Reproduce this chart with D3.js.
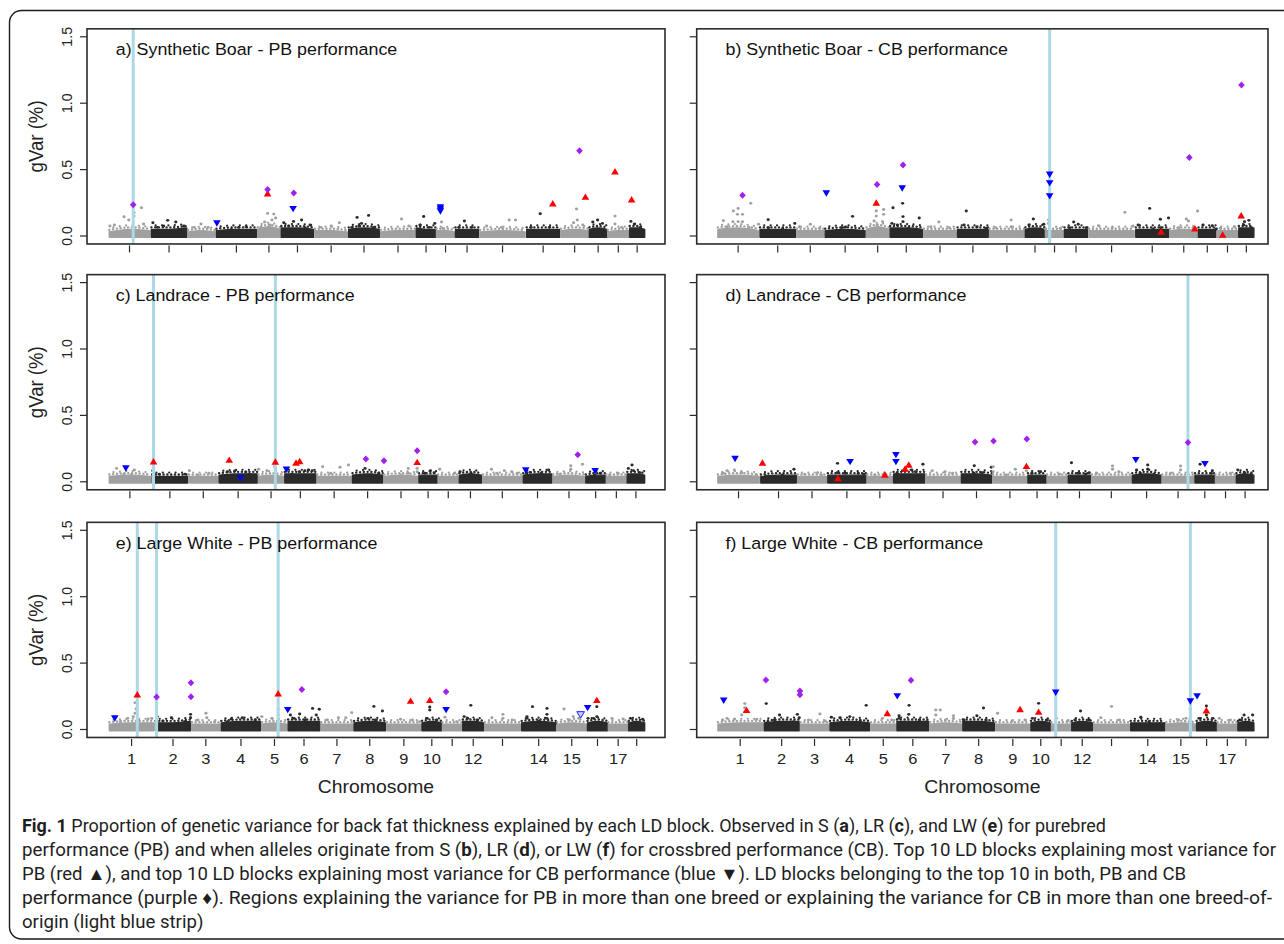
<!DOCTYPE html>
<html><head><meta charset="utf-8">
<script src="https://cdn.jsdelivr.net/npm/d3@7"></script>
<style>body{margin:0;background:#fff}svg{display:block}</style>
</head><body>
<svg id="c" width="1284" height="944"></svg>
<script>
// ---------------- DATA ----------------
const chromosomes = ["1","2","3","4","5","6","7","8","9","10","11","12","13","14","15","16","17","18"];
const xTickLabels = ["1","2","3","4","5","6","7","8","9","10","","12","","14","15","","17",""];
const yTickValues = [0, 0.5, 1.0, 1.5];
const yTickLabels = ["0.0","0.5","1.0","1.5"];
const yAxisTitle = "gVar (%)";
const xAxisTitle = "Chromosome";
// number of LD blocks per chromosome, per breed (S, LR, LW)
const blocksS  = [422,369,281,416,234,337,337,320,360,201,189,241,469,343,287,183,220,157];
const blocksLR = [431,370,300,398,262,325,353,317,352,191,213,232,406,300,330,205,210,182];
const blocksLW = [464,365,292,411,260,331,328,329,354,205,203,218,368,356,306,209,205,166];
const panelTitles = ["a) Synthetic Boar - PB performance","b) Synthetic Boar - CB performance",
  "c) Landrace - PB performance","d) Landrace - CB performance",
  "e) Large White - PB performance","f) Large White - CB performance"];

// top-10 markers: [type, block position, gVar %]  PB = red ▲, CB = blue ▼, both = purple ♦
const markersA = [["PB",1592,0.316],["PB",4444,0.241],["PB",4770,0.291],["PB",5066,0.482],["PB",5232,0.271],
  ["CB",1085,0.10],["CB",1847,0.208],["CB",3320,0.22],["CB",3320,0.205],["CB",3320,0.19],
  ["both",248,0.236],["both",1592,0.35],["both",1854,0.324],["both",4711,0.642]];
const markersB = [["PB",1591,0.246],["PB",4773,0.053],["PB",4436,0.028],["PB",5051,0.005],["PB",5236,0.15],
  ["CB",1092,0.326],["CB",1850,0.364],["CB",3323,0.467],["CB",3323,0.402],["CB",3323,0.304],
  ["both",255,0.306],["both",1599,0.387],["both",1858,0.535],["both",4718,0.592],["both",5239,1.137]];
const markersC = [["PB",452,0.149],["PB",1211,0.161],["PB",1673,0.147],["PB",1880,0.139],["PB",1917,0.151],["PB",3094,0.144],
  ["CB",175,0.106],["CB",1322,0.033],["CB",1784,0.096],["CB",4182,0.091],["CB",4877,0.086],
  ["both",2580,0.171],["both",2761,0.159],["both",3094,0.234],["both",4703,0.204]];
const markersD = [["PB",455,0.139],["PB",1210,0.023],["PB",1680,0.049],["PB",1883,0.094],["PB",1920,0.124],["PB",3097,0.114],
  ["CB",181,0.177],["CB",1332,0.154],["CB",1791,0.207],["CB",1791,0.154],["CB",4192,0.169],["CB",4884,0.139],
  ["both",2583,0.30],["both",2768,0.307],["both",3101,0.322],["both",4714,0.295]];
const markersE = [["PB",289,0.26],["PB",1699,0.267],["PB",3024,0.212],["PB",3216,0.217],["PB",4888,0.217],
  ["CB",64,0.089],["CB",1795,0.152],["CB",3379,0.152],["CBopen",4726,0.116],["CB",4796,0.167],
  ["both",482,0.245],["both",826,0.352],["both",826,0.247],["both",1936,0.302],["both",3379,0.285]];
const markersF = [["PB",296,0.142],["PB",1702,0.119],["PB",3030,0.149],["PB",3215,0.129],["PB",4892,0.139],
  ["CB",67,0.222],["CB",1802,0.255],["CB",3386,0.282],["CB",4732,0.217],["CB",4799,0.255],
  ["both",489,0.373],["both",829,0.29],["both",829,0.262],["both",1939,0.370]];

// light blue strips (block positions)
const stripsA = [248];
const stripsB = [3323];
const stripsC = [452, 1673];
const stripsD = [4714];
const stripsE = [289, 482, 1699];
const stripsF = [3386, 4732];

// other LD blocks standing out above the dense band: [block position, gVar %]
const outliersA = [[15,.075],[60,.083],[156,.145],[204,.12],[256,.176],[256,.15],[330,.213],[352,.09],[445,.10],[593,.118],[674,.105],[552,.075],[755,.075],[489,.065],[926,.09],[996,.065],[859,.065],[1303,.065],[1229,.05],[1377,.07],[1592,.17],[1654,.165],[1636,.12],[1562,.105],[1673,.135],[1618,.083],[1525,.065],[1754,.10],[1851,.11],[1932,.12],[2017,.083],[1803,.075],[1969,.06],[2309,.10],[2228,.075],[2124,.065],[2487,.14],[2602,.155],[2531,.095],[2506,.075],[2654,.065],[2435,.065],[2931,.128],[3005,.075],[3153,.147],[3116,.083],[3264,.095],[3209,.065],[3331,.105],[3345,.058],[3560,.113],[3634,.065],[3505,.065],[4008,.12],[4071,.12],[3782,.075],[3930,.065],[4318,.168],[4226,.065],[4411,.065],[4681,.203],[4689,.12],[4652,.10],[4744,.083],[4844,.105],[4892,.12],[4940,.095],[5066,.15],[5066,.09],[5133,.065],[5225,.11],[5262,.09],[5318,.065]];
const outliersB = [[63,.115],[163,.188],[211,.208],[204,.163],[159,.108],[211,.108],[255,.163],[337,.246],[255,.108],[100,.07],[322,.063],[415,.088],[511,.123],[514,.063],[777,.095],[655,.053],[933,.088],[822,.07],[1025,.058],[1354,.148],[1247,.063],[1284,.068],[1591,.188],[1591,.15],[1665,.20],[1665,.163],[1569,.113],[1654,.108],[1599,.083],[1758,.213],[1854,.246],[1858,.146],[1858,.108],[2020,.136],[1802,.083],[1913,.058],[1747,.095],[2216,.105],[2135,.07],[2320,.063],[2490,.188],[2468,.083],[2598,.07],[2690,.058],[2938,.12],[2938,.07],[2783,.063],[3160,.128],[3116,.083],[3264,.088],[3282,.053],[3312,.12],[3312,.095],[3430,.058],[3563,.105],[3608,.088],[3689,.063],[3523,.063],[3811,.078],[4074,.178],[4155,.075],[3948,.063],[4322,.208],[4429,.126],[4510,.136],[4433,.063],[4207,.083],[4355,.053],[4688,.128],[4710,.113],[4800,.188],[4614,.063],[4855,.083],[4947,.078],[4984,.053],[5028,.058],[5169,.07],[5313,.118],[5269,.108],[5262,.083],[5339,.063]];
const outliersC = [[82,.101],[260,.089],[156,.058],[230,.051],[445,.084],[508,.058],[767,.058],[811,.084],[1007,.064],[896,.051],[1192,.076],[1266,.081],[1377,.074],[1505,.094],[1414,.058],[1588,.084],[1666,.114],[1673,.089],[1840,.058],[1969,.084],[2006,.089],[2043,.084],[1913,.076],[2147,.114],[2321,.109],[2406,.127],[2228,.064],[2572,.101],[2635,.051],[2709,.064],[3005,.101],[3005,.064],[3094,.101],[3094,.076],[2931,.051],[3227,.084],[3171,.064],[3264,.069],[3320,.094],[3468,.064],[3523,.076],[3634,.064],[3838,.094],[3967,.084],[4041,.076],[4097,.064],[3893,.064],[4189,.064],[4411,.089],[4337,.064],[4226,.071],[4633,.121],[4633,.094],[4751,.132],[4522,.058],[4929,.064],[4874,.051],[5107,.064],[5022,.051],[5247,.127],[5210,.101],[5325,.069],[5262,.084]];
const outliersD = [[100,.084],[174,.089],[248,.069],[396,.051],[63,.064],[770,.094],[655,.051],[489,.044],[1007,.069],[877,.058],[1044,.051],[1206,.139],[1203,.069],[1284,.064],[1414,.064],[1469,.058],[1680,.064],[1580,.051],[2061,.132],[1858,.084],[1950,.089],[1987,.076],[1802,.064],[2154,.084],[2283,.076],[2357,.064],[2575,.121],[2572,.064],[2746,.109],[2764,.114],[2764,.076],[2653,.069],[2986,.094],[3097,.084],[2894,.051],[3238,.076],[3153,.064],[3430,.058],[3548,.144],[3689,.058],[3726,.069],[3615,.064],[3959,.119],[3959,.094],[4022,.076],[3800,.064],[4200,.089],[4311,.127],[4311,.094],[4237,.064],[4374,.058],[4640,.119],[4640,.089],[4540,.064],[4836,.132],[4958,.084],[4947,.064],[5139,.064],[5213,.089],[5347,.058],[5280,.069]];
const outliersE = [[267,.202],[278,.154],[267,.122],[249,.097],[193,.084],[119,.059],[304,.072],[397,.079],[434,.084],[489,.097],[630,.089],[763,.059],[822,.114],[822,.089],[545,.064],[977,.122],[985,.089],[896,.072],[1063,.059],[1229,.079],[1340,.089],[1469,.072],[1192,.059],[1536,.097],[1636,.084],[1699,.154],[1699,.109],[1914,.117],[2043,.159],[2110,.152],[2080,.109],[1821,.109],[1858,.084],[1969,.072],[2302,.089],[2435,.127],[2376,.089],[2191,.072],[2657,.174],[2742,.139],[2598,.084],[2672,.072],[2924,.077],[3042,.072],[3116,.059],[3216,.169],[3216,.147],[3190,.084],[3283,.072],[3368,.092],[3486,.059],[3627,.182],[3560,.097],[3597,.084],[3690,.072],[3838,.089],[3948,.114],[3948,.084],[4041,.072],[4189,.097],[4189,.084],[4244,.172],[4389,.159],[4389,.114],[4389,.084],[4307,.064],[4470,.046],[4559,.154],[4652,.097],[4707,.084],[4615,.072],[4800,.084],[4855,.084],[4888,.172],[4888,.097],[5040,.084],[5151,.079],[5225,.084],[5347,.077]];
const outliersF = [[278,.195],[278,.164],[278,.134],[248,.109],[100,.084],[174,.077],[396,.077],[56,.072],[492,.195],[625,.109],[574,.072],[803,.114],[822,.089],[766,.059],[507,.054],[1029,.117],[914,.072],[1081,.064],[1143,.092],[1229,.089],[1328,.097],[1491,.182],[1432,.064],[1654,.084],[1747,.072],[1920,.182],[1917,.114],[1820,.104],[1820,.084],[2024,.072],[2098,.059],[2187,.147],[2231,.147],[2187,.109],[2364,.104],[2364,.084],[2283,.072],[2664,.162],[2598,.104],[2468,.072],[2690,.072],[2805,.122],[2949,.064],[3079,.072],[3215,.197],[3153,.084],[3301,.072],[3393,.084],[3504,.064],[3634,.139],[3578,.072],[3719,.072],[3944,.174],[3837,.089],[4022,.072],[4237,.092],[4318,.059],[4429,.046],[4688,.084],[4732,.152],[4614,.072],[4892,.177],[4892,.109],[4818,.084],[4954,.084],[5021,.084],[5132,.072],[5269,.109],[5354,.109],[5225,.072]];

// dense band of small LD blocks: upper profile per chromosome (gVar in 1/100 %)
const bandA = [[3,5,4],[5,5,6],[3,4,3],[4,5,5],[5,7,5],[6,6,5],[4,4,3],[5,6,5],[3,4,4],[6,5,5],[4,4,3],[5,5,5],[3,4,3],[5,5,5],[4,5,4],[5,6,5],[3,4,4],[6,6,5]];
const bandB = [[5,6,4],[5,5,5],[4,4,4],[4,5,4],[5,7,5],[6,6,5],[4,4,4],[5,5,5],[4,4,4],[5,6,5],[4,4,4],[5,5,5],[4,4,4],[5,5,5],[4,5,4],[5,5,5],[4,4,4],[6,6,6]];
const bandC = [[4,5,4],[4,4,4],[4,4,4],[5,6,6],[4,5,4],[6,6,6],[4,4,4],[5,6,5],[4,5,4],[5,5,5],[4,4,4],[5,6,5],[4,4,4],[5,6,6],[4,5,4],[4,5,5],[4,4,4],[6,6,5]];
const bandD = [[4,5,4],[4,5,5],[4,4,4],[5,5,5],[4,4,4],[6,6,6],[4,4,4],[6,6,5],[4,4,4],[5,5,5],[4,4,4],[5,5,5],[4,4,4],[5,6,5],[4,4,4],[5,5,5],[4,4,4],[5,6,5]];
const bandE = [[4,5,5],[5,5,6],[4,4,4],[5,6,6],[4,5,4],[6,6,6],[4,4,4],[5,6,5],[4,4,4],[5,6,5],[4,4,4],[6,6,5],[4,4,4],[5,6,5],[4,5,4],[5,6,5],[4,4,4],[5,6,5]];
const bandF = [[4,5,5],[5,6,6],[4,4,4],[5,6,5],[4,4,4],[6,6,6],[4,5,4],[6,6,5],[4,4,4],[5,6,5],[4,4,4],[5,6,5],[4,4,4],[5,5,5],[4,5,4],[5,6,5],[4,4,4],[5,6,5]];

const captionLines = [
  [["Fig. 1",1],[" Proportion of genetic variance for back fat thickness explained by each LD block. Observed in S (",0],["a",1],["), LR (",0],["c",1],["), and LW (",0],["e",1],[") for purebred",0]],
  [["performance (PB) and when alleles originate from S (",0],["b",1],["), LR (",0],["d",1],["), or LW (",0],["f",1],[") for crossbred performance (CB). Top 10 LD blocks explaining most variance for",0]],
  [["PB (red \u25B2), and top 10 LD blocks explaining most variance for CB performance (blue \u25BC). LD blocks belonging to the top 10 in both, PB and CB",0]],
  [["performance (purple \u2666). Regions explaining the variance for PB in more than one breed or explaining the variance for CB in more than one breed-of-",0]],
  [["origin (light blue strip)",0]]
];

// ---------------- LAYOUT ----------------
const svg = d3.select("#c");
const HS = 1.095;                      // horizontal stretch of the original figure
const FONT = "'Liberation Sans', Arial, Helvetica, sans-serif";
const GRAY = "#a0a0a0", DARK = "#2a2a2a";
const MCOL = {PB:"#ff0000", CB:"#0000ff", CBopen:"#0000ff", both:"#a020f0"};
const cols = [{boxL:87, boxR:665, dataL:108.4, dataR:645},
              {boxL:696.7, boxR:1268, dataL:717, dataR:1254.2}];
const rowZero = [236, 481.8, 729.5];
const unitPx = 132.8;
const breeds = [blocksS, blocksLR, blocksLW];

const panels = [
  {t:0,row:0,col:0,m:markersA,o:outliersA,s:stripsA,b:bandA},
  {t:1,row:0,col:1,m:markersB,o:outliersB,s:stripsB,b:bandB},
  {t:2,row:1,col:0,m:markersC,o:outliersC,s:stripsC,b:bandC},
  {t:3,row:1,col:1,m:markersD,o:outliersD,s:stripsD,b:bandD},
  {t:4,row:2,col:0,m:markersE,o:outliersE,s:stripsE,b:bandE},
  {t:5,row:2,col:1,m:markersF,o:outliersF,s:stripsF,b:bandF}
];

function stretch(sel){
  sel.each(function(){
    const w = this.getComputedTextLength();
    d3.select(this).attr("textLength", w*HS).attr("lengthAdjust","spacingAndGlyphs");
  });
}

// outer frame (right side runs past the picture edge)
svg.append("rect").attr("x",9.5).attr("y",10.5).attr("width",1290).attr("height",928.5)
  .attr("rx",12).attr("fill","none").attr("stroke","#1a1a1a").attr("stroke-width",1.4);

const defs = svg.append("defs");

const triUp = (w,h)=>`M0,${-h*0.62}L${w/2},${h*0.38}L${-w/2},${h*0.38}Z`;
const triDn = (w,h)=>`M0,${h*0.62}L${w/2},${-h*0.38}L${-w/2},${-h*0.38}Z`;
const diamond = (w,h)=>`M0,${-h/2}L${w/2},0L0,${h/2}L${-w/2},0Z`;

panels.forEach((p,pi)=>{
  const col = cols[p.col], zero = rowZero[p.row];
  const counts = breeds[p.row];
  const N = d3.sum(counts);
  const starts = counts.map((c,k)=>d3.sum(counts.slice(0,k)));
  const x = d3.scaleLinear().domain([0,N]).range([col.dataL,col.dataR]);
  const y = d3.scaleLinear().domain([0,1.5]).range([zero, zero-1.5*unitPx]);
  const top = y(1.56), bottom = y(-0.06);
  const chrIdx = pos => Math.max(0, d3.bisectRight(starts, pos)-1);

  defs.append("clipPath").attr("id","clip"+pi).append("rect")
    .attr("x",col.boxL).attr("y",top).attr("width",col.boxR-col.boxL).attr("height",bottom-top);
  const g = svg.append("g");
  const plot = g.append("g").attr("clip-path",`url(#clip${pi})`);

  // dense band
  const area = d3.area().x(d=>x(d[0])).y0(y(-0.009)).y1(d=>y(d[1])).curve(d3.curveMonotoneX);
  const topLine = d3.line().x(d=>x(d[0])).y(d=>y(d[1])).curve(d3.curveMonotoneX);
  counts.forEach((c,k)=>{
    const prof = p.b[k];
    const pts = prof.map((v,j)=>[starts[k] + c*(0.02 + 0.96*j/(prof.length-1)), v/100]);
    const col2 = k%2 ? DARK : GRAY;
    plot.append("path").attr("d", area(pts)).attr("fill", col2)
      .attr("stroke", col2).attr("stroke-width", 1.4).attr("stroke-linejoin","round");
    // speckled fringe of points along the top of the band
    plot.append("path").attr("d", topLine(pts)).attr("fill","none")
      .attr("stroke", col2).attr("stroke-width", 2.4).attr("stroke-linecap","round")
      .attr("stroke-dasharray","0.1 3.7").attr("transform","translate(0,-2)");
    plot.append("path").attr("d", topLine(pts)).attr("fill","none")
      .attr("stroke", col2).attr("stroke-width", 2.2).attr("stroke-linecap","round")
      .attr("stroke-dasharray","0.1 6.3").attr("stroke-dashoffset",2.2).attr("transform","translate(0,-4)");
  });

  // standing-out blocks
  plot.selectAll(null).data(p.o).join("ellipse")
    .attr("cx",d=>x(d[0])).attr("cy",d=>y(d[1])).attr("rx",1.45*HS).attr("ry",1.45)
    .attr("fill",d=>chrIdx(d[0])%2 ? DARK : GRAY);

  // light blue strips
  plot.selectAll(null).data(p.s).join("line")
    .attr("x1",d=>x(d)).attr("x2",d=>x(d)).attr("y1",top).attr("y2",bottom)
    .attr("stroke","#add8e6").attr("stroke-width",3);

  // markers
  plot.selectAll(null).data(p.m).join("path")
    .attr("transform",d=>`translate(${x(d[1])},${y(d[2])})`)
    .attr("d",d=> d[0]==="PB" ? triUp(7.6,6.4) : (d[0]==="both" ? diamond(6.6,7.0) : triDn(7.6,6.4)))
    .attr("fill",d=> d[0]==="CBopen" ? "#c9c9f5" : MCOL[d[0]])
    .attr("stroke",d=> d[0]==="CBopen" ? "#2020ff" : "none").attr("stroke-width",1);

  // frame
  g.append("rect").attr("x",col.boxL).attr("y",top).attr("width",col.boxR-col.boxL)
    .attr("height",bottom-top).attr("fill","none").attr("stroke","#2b2b2b").attr("stroke-width",1.6);

  // y axis ticks
  g.selectAll(null).data(yTickValues).join("line")
    .attr("x1",col.boxL-7).attr("x2",col.boxL).attr("y1",d=>y(d)).attr("y2",d=>y(d))
    .attr("stroke","#2b2b2b").attr("stroke-width",1.2);
  if (p.col===0){
    g.selectAll(null).data(yTickValues).join("text")
      .attr("transform",d=>`translate(71.5,${y(d)}) scale(${HS},1) rotate(-90)`)
      .attr("text-anchor","middle").attr("font-family",FONT).attr("font-size",14.2)
      .attr("fill","#222").text((d,i)=>yTickLabels[i]);
    g.append("text")
      .attr("transform",`translate(42.5,${(top+bottom)/2}) scale(${HS},1) rotate(-90)`)
      .attr("text-anchor","middle").attr("font-family",FONT).attr("font-size",18.6)
      .attr("fill","#222").text(yAxisTitle);
  }

  // x axis ticks
  const mids = counts.map((c,k)=>starts[k]+c/2);
  g.selectAll(null).data(mids).join("line")
    .attr("x1",d=>x(d)).attr("x2",d=>x(d)).attr("y1",bottom+1.5).attr("y2",bottom+8.5)
    .attr("stroke","#2b2b2b").attr("stroke-width",1.2);
  if (p.row===2){
    g.selectAll(null).data(mids).join("text")
      .attr("x",d=>x(d)).attr("y",764).attr("text-anchor","middle")
      .attr("font-family",FONT).attr("font-size",15).attr("fill","#222")
      .text((d,i)=>xTickLabels[i]).call(stretch);
    g.append("text").attr("x",(col.boxL+col.boxR)/2).attr("y",792.7).attr("text-anchor","middle")
      .attr("font-family",FONT).attr("font-size",17.7).attr("fill","#222").text(xAxisTitle).call(stretch);
  }

  // title
  g.append("text").attr("x",col.boxL+28.8).attr("y",zero-180.8)
    .attr("font-family",FONT).attr("font-size",16.3).attr("fill","#111")
    .text(panelTitles[p.t]).call(stretch);
});

// caption
const capWidths = [1084, 1254, 1164, 1250];
const capBase = [832, 856, 880, 904, 928];
const capNodes = captionLines.map((line,i)=>{
  const t = svg.append("text").attr("x",22).attr("y",capBase[i])
    .attr("font-family","Roboto, 'Noto Sans', sans-serif").attr("font-size",18).attr("fill","#1e1e1e");
  line.forEach(seg=>t.append("tspan").attr("font-weight",seg[1]?"bold":"normal").text(seg[0]));
  return t;
});
const ratios = capWidths.map((w,i)=> w / capNodes[i].node().getComputedTextLength());
const meanRatio = d3.mean(ratios);
capNodes.forEach((t,i)=>{
  const w = i < capWidths.length ? capWidths[i] : t.node().getComputedTextLength()*meanRatio;
  t.attr("textLength",w).attr("lengthAdjust","spacingAndGlyphs");
});
</script>
</body></html>
